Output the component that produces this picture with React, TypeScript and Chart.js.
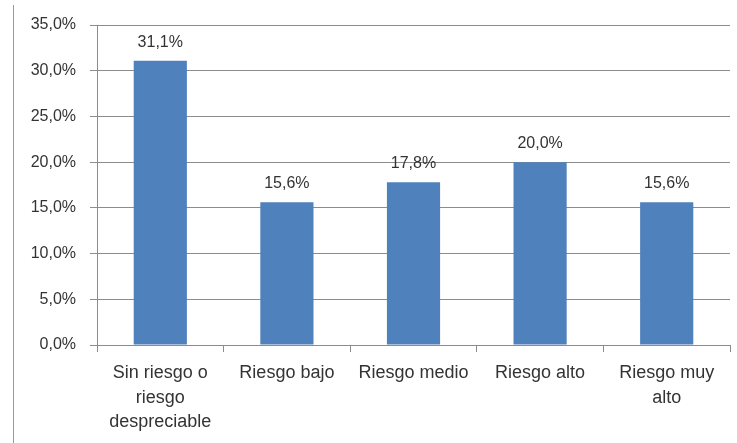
import React, { useEffect, useRef } from "react";
import { Chart, registerables } from "chart.js";

Chart.register(...registerables);

const categories: (string | string[])[] = [
  ["Sin riesgo o", "riesgo", "despreciable"],
  "Riesgo bajo",
  "Riesgo medio",
  "Riesgo alto",
  ["Riesgo muy", "alto"],
];
const values = [31.1, 15.6, 17.8, 20.0, 15.6];
const yTicks = [0, 5, 10, 15, 20, 25, 30, 35];

const fmt = (v: number) => v.toFixed(1).replace(".", ",") + "%";

const FONT = "'Liberation Sans', Arial, sans-serif";
const TEXT = "#333333";
const GRID = "#8c8c8c";

const extras = {
  id: "extras",
  afterDraw(chart: any) {
    const ctx = chart.ctx;
    ctx.save();
    // frame line at left
    ctx.strokeStyle = "#9a9a9a";
    ctx.lineWidth = 1;
    ctx.beginPath();
    ctx.moveTo(13.5, 5);
    ctx.lineTo(13.5, 443);
    ctx.stroke();
    // data labels
    const meta = chart.getDatasetMeta(0);
    ctx.fillStyle = TEXT;
    ctx.font = `16px ${FONT}`;
    ctx.textAlign = "center";
    ctx.textBaseline = "alphabetic";
    meta.data.forEach((bar: any, i: number) => {
      ctx.fillText(fmt(values[i]), bar.x, bar.y - 14);
    });
    ctx.restore();
  },
};

export default function App() {
  const ref = useRef<HTMLCanvasElement>(null);
  useEffect(() => {
    if (!ref.current) return;
    const chart = new Chart(ref.current, {
      type: "bar",
      data: {
        labels: categories,
        datasets: [
          {
            data: values,
            backgroundColor: "#4F81BD",
            borderWidth: 0,
            barPercentage: 0.42,
            categoryPercentage: 1,
          },
        ],
      },
      options: {
        animation: false,
        responsive: false,
        maintainAspectRatio: false,
        layout: { padding: { top: 25, right: 7, bottom: 0, left: 0 } },
        plugins: { legend: { display: false }, tooltip: { enabled: false } },
        scales: {
          x: {
            grid: {
              display: true,
              drawOnChartArea: false,
              drawTicks: true,
              tickLength: 7,
              color: GRID,
              offset: true,
            },
            border: { display: true, color: GRID },
            ticks: {
              color: TEXT,
              font: { family: FONT, size: 18, lineHeight: 1.36 },
              padding: 9,
              maxRotation: 0,
              autoSkip: false,
            },
            afterFit: (s: any) => {
              s.height = 98;
            },
          },
          y: {
            min: 0,
            max: 35,
            afterBuildTicks: (s: any) => {
              s.ticks = yTicks.map((v) => ({ value: v }));
            },
            grid: { color: GRID, tickLength: 7, drawTicks: true },
            border: { display: true, color: GRID },
            ticks: {
              color: TEXT,
              font: { family: FONT, size: 16 },
              padding: 14,
              callback: (v: any) => fmt(Number(v)),
            },
            afterFit: (s: any) => {
              s.width = 97;
            },
          },
        },
      },
      plugins: [extras],
    });
    return () => chart.destroy();
  }, []);
  return (
    <div style={{ position: "fixed", left: 0, top: 0, width: 737, height: 443, background: "#fff" }}>
      <canvas ref={ref} width={737} height={443} style={{ width: 737, height: 443 }} />
    </div>
  );
}
